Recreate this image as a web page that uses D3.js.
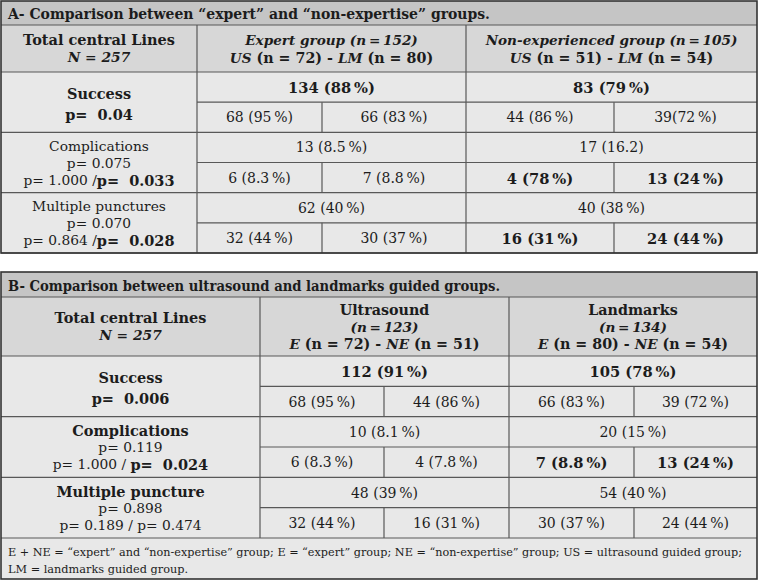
<!DOCTYPE html>
<html>
<head>
<meta charset="utf-8">
<script src="https://cdn.jsdelivr.net/npm/d3@7"></script>
<style>
body { margin: 0; background: #fff; }
text { font-family: "DejaVu Serif", serif; fill: #1c1c1c; white-space: pre; }
</style>
</head>
<body>
<div id="tableContainer"></div>
<script>
// text segments are [string, style] where style is "", "b", "i" or "bi"

// ---- table A data
const titleA = "A- Comparison between \u201cexpert\u201d and \u201cnon-expertise\u201d groups.";
const cornerA = [[["Total central Lines", "b"]], [["N = 257", "bi"]]];
const groupHeadsA = [
	[[["Expert group (n\u2009=\u2009152)", "bi"]],
	 [["US", "bi"], [" (n = 72) - ", "b"], ["LM", "bi"], [" (n = 80)", "b"]]],
	[[["Non-experienced group (n\u2009=\u2009105)", "bi"]],
	 [["US", "bi"], [" (n = 51) - ", "b"], ["LM", "bi"], [" (n = 54)", "b"]]]
];
const rowLabelsA = [
	[[["Success", "b"]], [["p=  0.04", "b"]]],
	[[["Complications", ""]], [["p= 0.075", ""]], [["p= 1.000 /", ""], ["p=  0.033", "b"]]],
	[[["Multiple punctures", ""]], [["p= 0.070", ""]], [["p= 0.864 /", ""], ["p=  0.028", "b"]]]
];
const totalsA = [["134 (88\u2009%)", "83 (79\u2009%)"], ["13 (8.5\u2009%)", "17 (16.2)"], ["62 (40\u2009%)", "40 (38\u2009%)"]];
const totalsBoldA = [true, false, false];
const subValuesA = [
	["68 (95\u2009%)", "66 (83\u2009%)", "44 (86\u2009%)", "39(72\u2009%)"],
	["6 (8.3\u2009%)", "7 (8.8\u2009%)", "4 (78\u2009%)", "13 (24\u2009%)"],
	["32 (44\u2009%)", "30 (37\u2009%)", "16 (31\u2009%)", "24 (44\u2009%)"]
];
const subBoldA = [[0, 0, 0, 0], [0, 0, 1, 1], [0, 0, 1, 1]];

// ---- table B data
const titleB = "B- Comparison between ultrasound and landmarks guided groups.";
const cornerB = [[["Total central Lines", "b"]], [["N = 257", "bi"]]];
const groupHeadsB = [
	[[["Ultrasound", "b"]], [["(n\u2009=\u2009123)", "bi"]],
	 [["E", "bi"], [" (n = 72) - ", "b"], ["NE", "bi"], [" (n = 51)", "b"]]],
	[[["Landmarks", "b"]], [["(n\u2009=\u2009134)", "bi"]],
	 [["E", "bi"], [" (n = 80) - ", "b"], ["NE", "bi"], [" (n = 54)", "b"]]]
];
const rowLabelsB = [
	[[["Success", "b"]], [["p=  0.006", "b"]]],
	[[["Complications", "b"]], [["p= 0.119", ""]], [["p= 1.000 / ", ""], ["p=  0.024", "b"]]],
	[[["Multiple puncture", "b"]], [["p= 0.898", ""]], [["p= 0.189 / p= 0.474", ""]]]
];
const totalsB = [["112 (91\u2009%)", "105 (78\u2009%)"], ["10 (8.1\u2009%)", "20 (15\u2009%)"], ["48 (39\u2009%)", "54 (40\u2009%)"]];
const totalsBoldB = [true, false, false];
const subValuesB = [
	["68 (95\u2009%)", "44 (86\u2009%)", "66 (83\u2009%)", "39 (72\u2009%)"],
	["6 (8.3\u2009%)", "4 (7.8\u2009%)", "7 (8.8\u2009%)", "13 (24\u2009%)"],
	["32 (44\u2009%)", "16 (31\u2009%)", "30 (37\u2009%)", "24 (44\u2009%)"]
];
const subBoldB = [[0, 0, 0, 0], [0, 0, 1, 1], [0, 0, 0, 0]];
const footnoteB = [
	"E + NE = \u201cexpert\u201d and \u201cnon-expertise\u201d group; E = \u201cexpert\u201d group; NE = \u201cnon-expertise\u201d group; US = ultrasound guided group;",
	"LM = landmarks guided group."
];

const W = 759, H = 581;
const fillTitle = "#c5c5c5", fillHead = "#d7d7d7", fillBody = "#e8e8e8";
const gridColor = "#585858";

let svg = d3.select("#tableContainer")
	.append("svg")
	.attr("width", W)
	.attr("height", H);

// bold upright runs look a touch larger than the rest in the original
function addLine(g, x, y, segs, size, anchor)
{
	let t = g.append("text")
		.attr("x", x)
		.attr("y", y)
		.attr("text-anchor", anchor || "middle")
		.attr("dominant-baseline", "central");
	segs.forEach(function(s) {
		t.append("tspan")
			.text(s[0])
			.style("font-size", (s[1] == "b" ? size * 1.05 : size) + "px")
			.style("font-weight", s[1].indexOf("b") >= 0 ? "bold" : "normal")
			.style("font-style", s[1].indexOf("i") >= 0 ? "italic" : "normal");
	});
	return t;
}

function addBlock(g, cx, cy, lines, size, lineGap)
{
	let start = cy - (lines.length - 1) * lineGap / 2;
	lines.forEach(function(segs, i) {
		addLine(g, cx, start + i * lineGap, segs, size);
	});
}

function hline(g, x1, x2, y)
{
	g.append("line").attr("x1", x1).attr("x2", x2).attr("y1", y).attr("y2", y)
		.attr("stroke", gridColor).attr("stroke-width", 1.2);
}

function vline(g, x, y1, y2)
{
	g.append("line").attr("x1", x).attr("x2", x).attr("y1", y1).attr("y2", y2)
		.attr("stroke", gridColor).attr("stroke-width", 1.2);
}

function drawTable(cfg)
{
	let g = svg.append("g");
	let cols = cfg.cols;
	let left = cols[0], right = cols[cols.length - 1];
	let yRow = d3.scaleLinear().domain([0, 6]).range([cfg.headBottom, cfg.rowsBottom]);
	let bottom = cfg.footBottom || cfg.rowsBottom;

	g.append("rect").attr("x", left).attr("y", cfg.top).attr("width", right - left)
		.attr("height", bottom - cfg.top).attr("fill", fillBody);
	g.append("rect").attr("x", left).attr("y", cfg.top).attr("width", right - left)
		.attr("height", cfg.titleBottom - cfg.top).attr("fill", fillTitle);
	g.append("rect").attr("x", left).attr("y", cfg.titleBottom).attr("width", right - left)
		.attr("height", cfg.headBottom - cfg.titleBottom).attr("fill", fillHead);

	// grid
	hline(g, left, right, cfg.titleBottom);
	hline(g, left, right, cfg.headBottom);
	for (let r = 0; r < 3; r++) {
		hline(g, cols[1], right, yRow(r * 2 + 1));
		hline(g, left, right, yRow(r * 2 + 2));
		vline(g, cols[2], yRow(r * 2 + 1), yRow(r * 2 + 2));
		vline(g, cols[4], yRow(r * 2 + 1), yRow(r * 2 + 2));
	}
	vline(g, cols[1], cfg.titleBottom, cfg.rowsBottom);
	vline(g, cols[3], cfg.titleBottom, cfg.rowsBottom);

	// title, squeezed to the width it has in the original
	addLine(g, left + 7, (cfg.top + cfg.titleBottom) / 2 + 0.5, [["", ""]], 14, "start")
		.text(cfg.title)
		.style("font-size", "14.5px")
		.style("font-weight", "bold")
		.attr("textLength", cfg.titleWidth)
		.attr("lengthAdjust", "spacingAndGlyphs");

	// header
	let headMid = (cfg.titleBottom + cfg.headBottom) / 2;
	addBlock(g, (cols[0] + cols[1]) / 2, headMid - 1, cfg.corner, 13.8, 18);
	addBlock(g, (cols[1] + cols[3]) / 2, headMid, cfg.groupHeads[0], 13.6, cfg.headGap);
	addBlock(g, (cols[3] + cols[5]) / 2, headMid, cfg.groupHeads[1], 13.6, cfg.headGap);

	// body
	cfg.rowLabels.forEach(function(lines, r) {
		let mid = (yRow(r * 2) + yRow(r * 2 + 2)) / 2;
		if (lines.length > 2)
			addBlock(g, (cols[0] + cols[1]) / 2, mid, lines, 13.8, 17);
		else
			addBlock(g, (cols[0] + cols[1]) / 2, mid + 1.5, lines, 13.8, 21);
		cfg.totals[r].forEach(function(v, k) {
			let cx = k == 0 ? (cols[1] + cols[3]) / 2 : (cols[3] + cols[5]) / 2;
			addLine(g, cx, (yRow(r * 2) + yRow(r * 2 + 1)) / 2, [[v, cfg.totalsBold[r] ? "b" : ""]], 14);
		});
		cfg.subValues[r].forEach(function(v, k) {
			let cx = (cols[k + 1] + cols[k + 2]) / 2;
			addLine(g, cx, (yRow(r * 2 + 1) + yRow(r * 2 + 2)) / 2, [[v, cfg.subBold[r][k] ? "b" : ""]], 14);
		});
	});

	if (cfg.footnote) {
		cfg.footnote.forEach(function(txt, i) {
			let t = addLine(g, left + 7, cfg.rowsBottom + 14 + i * 17, [[txt, ""]], 11.3, "start");
			if (i == 0)
				t.attr("textLength", 734).attr("lengthAdjust", "spacingAndGlyphs");
		});
	}

	g.append("rect").attr("x", left).attr("y", cfg.top).attr("width", right - left)
		.attr("height", bottom - cfg.top).attr("fill", "none")
		.attr("stroke", "#333").attr("stroke-width", 1.6);
}

drawTable({
	top: 1, titleBottom: 25, headBottom: 72, rowsBottom: 253,
	cols: [1, 197, 322, 466, 614, 757],
	title: titleA, titleWidth: 482, corner: cornerA, groupHeads: groupHeadsA, headGap: 18,
	rowLabels: rowLabelsA, totals: totalsA, totalsBold: totalsBoldA,
	subValues: subValuesA, subBold: subBoldA
});

drawTable({
	top: 272, titleBottom: 297, headBottom: 356, rowsBottom: 538, footBottom: 579,
	cols: [1, 260, 384, 509, 634, 757],
	title: titleB, titleWidth: 492, corner: cornerB, groupHeads: groupHeadsB, headGap: 17,
	rowLabels: rowLabelsB, totals: totalsB, totalsBold: totalsBoldB,
	subValues: subValuesB, subBold: subBoldB, footnote: footnoteB
});
</script>
</body>
</html>
